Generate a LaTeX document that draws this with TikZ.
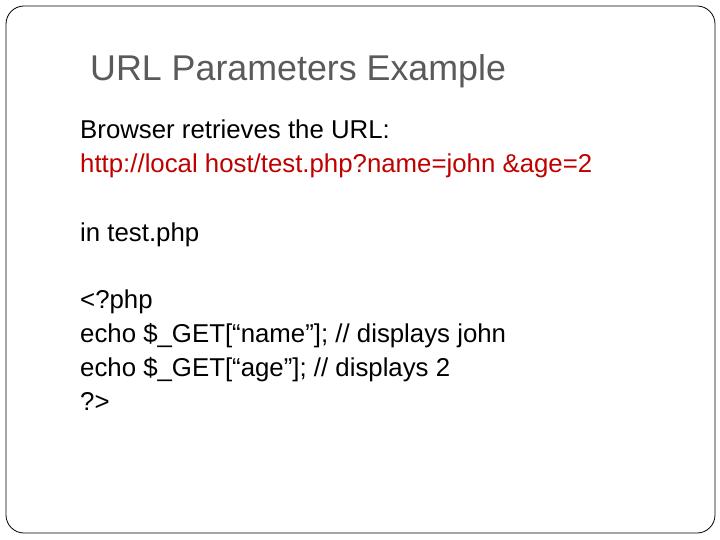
\documentclass[tikz,border=0pt]{standalone}
\usepackage{fontspec}
\setmainfont{Liberation Sans}
\definecolor{titlegray}{RGB}{90,90,90}
\definecolor{urlred}{RGB}{192,0,0}
\begin{document}
\begin{tikzpicture}[x=1pt,y=-1pt,
  body/.style={anchor=base west,inner sep=0pt,font=\fontsize{25.8}{30}\selectfont}]
\useasboundingbox (0,0) rectangle (720,540);
\draw[line width=0.8pt,rounded corners=18pt] (6,6) rectangle (715,533);
\node[anchor=base west,inner sep=0pt,text=titlegray,font=\fontsize{35.8}{40}\selectfont] (title) at (90,81) {URL Parameters Example};
\node[body] (l1) at (80,139) {Browser retrieves the URL:};
\node[body,text=urlred] (l2) at (80,173) {http://local host/test.php?name=john \&age=2};
\node[body] (l3) at (80,241) {in test.php};
\node[body] (l4) at (80,308) {<?php};
\node[body] (l5) at (80,342) {echo \$\_GET[“name”]; // displays john};
\node[body] (l6) at (80,376) {echo \$\_GET[“age”]; // displays 2};
\node[body] (l7) at (80,410) {?>};
\end{tikzpicture}
\end{document}
